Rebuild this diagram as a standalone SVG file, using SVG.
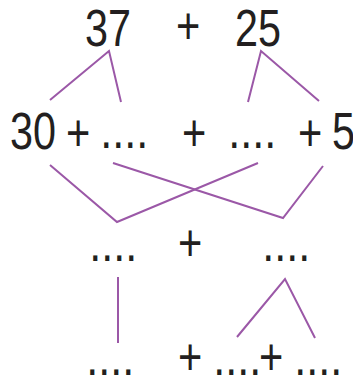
<svg xmlns="http://www.w3.org/2000/svg" width="353" height="384" viewBox="0 0 353 384">
<style>
text{font-family:"Liberation Sans",Arial,sans-serif;font-size:52px;fill:#231f20}
.c{fill:none;stroke:#9b58a7;stroke-width:2;stroke-linecap:butt;stroke-linejoin:miter}
</style>
<rect width="353" height="384" fill="#fff"/>
<g id="connectors">
<polyline class="c" points="50,100 109,51 121,102"/>
<polyline class="c" points="248,102 261,51 319,101"/>
<polyline class="c" points="50,165 117,222 258,163"/>
<polyline class="c" points="113,163 283,218 323,166"/>
<line class="c" x1="118" y1="277" x2="118" y2="343"/>
<polyline class="c" points="237,337 285,279 315,338"/>
</g>
<g id="n37"><text x="85" y="46" textLength="46" lengthAdjust="spacingAndGlyphs">37</text></g>
<g id="plus1"><text x="176" y="44" textLength="24.3" lengthAdjust="spacingAndGlyphs">+</text></g>
<g id="n25"><text x="235" y="46" textLength="46" lengthAdjust="spacingAndGlyphs">25</text></g>
<g id="n30"><text x="10" y="149" textLength="46" lengthAdjust="spacingAndGlyphs">30</text></g>
<g id="plus2"><text x="66" y="151" textLength="24.3" lengthAdjust="spacingAndGlyphs">+</text></g>
<g id="blank1"><text x="100.3" y="148" textLength="48" lengthAdjust="spacingAndGlyphs">....</text></g>
<g id="plus3"><text x="182" y="151" textLength="24.3" lengthAdjust="spacingAndGlyphs">+</text></g>
<g id="blank2"><text x="228.3" y="148" textLength="48" lengthAdjust="spacingAndGlyphs">....</text></g>
<g id="plus4"><text x="298" y="151" textLength="24.3" lengthAdjust="spacingAndGlyphs">+</text></g>
<g id="n5"><text x="332" y="149" textLength="23" lengthAdjust="spacingAndGlyphs">5</text></g>
<g id="blank3"><text x="89.3" y="261" textLength="48" lengthAdjust="spacingAndGlyphs">....</text></g>
<g id="plus5"><text x="178" y="261" textLength="24.3" lengthAdjust="spacingAndGlyphs">+</text></g>
<g id="blank4"><text x="262.3" y="261" textLength="48" lengthAdjust="spacingAndGlyphs">....</text></g>
<g id="blank5"><text x="86.3" y="375" textLength="48" lengthAdjust="spacingAndGlyphs">....</text></g>
<g id="plus6"><text x="178" y="375" textLength="24.3" lengthAdjust="spacingAndGlyphs">+</text></g>
<g id="blank6"><text x="213.3" y="375" textLength="48" lengthAdjust="spacingAndGlyphs">....</text></g>
<g id="plus7"><text x="259" y="375" textLength="24.3" lengthAdjust="spacingAndGlyphs">+</text></g>
<g id="blank7"><text x="294.3" y="375" textLength="48" lengthAdjust="spacingAndGlyphs">....</text></g>
</svg>
